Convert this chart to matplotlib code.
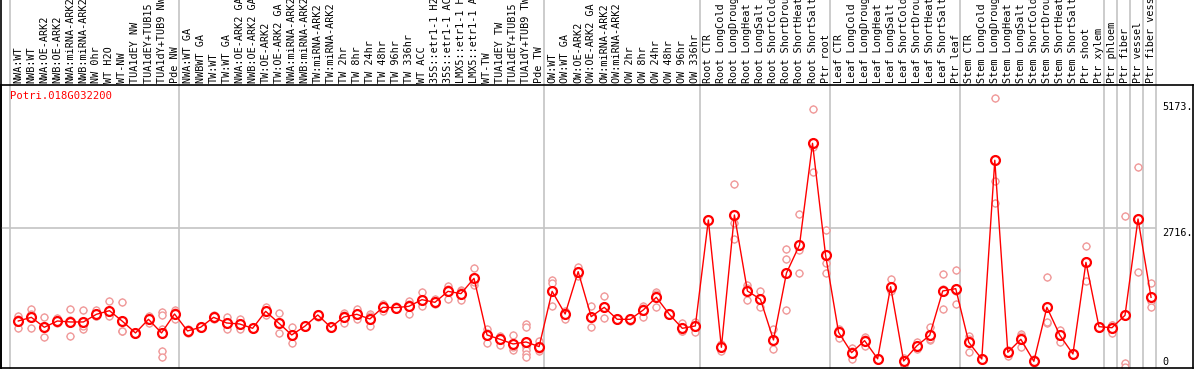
import matplotlib
matplotlib.use("Agg")
import matplotlib.pyplot as plt
import matplotlib.transforms as mtransforms

# sample names, in plot order
labels = [
    "NWA:WT", "NWB:WT", "NWA:OE-ARK2", "NWB:OE-ARK2", "NWA:miRNA-ARK2", "NWB:miRNA-ARK2",
    "NW 0hr", "WT H2O", "WT-NW", "TUA1dEY NW", "TUA1dEY+TUB15 NW", "TUA1dY+TUB9 NW", "Pde NW",
    "NWA:WT GA", "NWBWT GA", "TW:WT", "TW:WT GA", "NWA:OE-ARK2 GA", "NWB:OE-ARK2 GA",
    "TW:OE-ARK2", "TW:OE-ARK2 GA", "NWA:miRNA-ARK2 GA", "NWB:miRNA-ARK2 GA", "TW:miRNA-ARK2",
    "TW:miRNA-ARK2 GA", "TW 2hr", "TW 8hr", "TW 24hr", "TW 48hr", "TW 96hr", "TW 336hr", "WT ACC",
    "35S::etr1-1 H2O", "35S::etr1-1 ACC", "LMX5::etr1-1 H2O", "LMX5::etr1-1 ACC", "WT-TW",
    "TUA1dEY TW", "TUA1dEY+TUB15 TW", "TUA1dY+TUB9 TW", "Pde TW",
    "OW:WT", "OW:WT GA", "OW:OE-ARK2", "OW:OE-ARK2 GA", "OW:miRNA-ARK2", "OW:miRNA-ARK2 GA",
    "OW 2hr", "OW 8hr", "OW 24hr", "OW 48hr", "OW 96hr", "OW 336hr",
    "Root CTR", "Root LongCold", "Root LongDrought", "Root LongHeat", "Root LongSalt",
    "Root ShortCold", "Root ShortDrought", "Root ShortHeat", "Root ShortSalt", "Ptr root",
    "Leaf CTR", "Leaf LongCold", "Leaf LongDrought", "Leaf LongHeat", "Leaf LongSalt",
    "Leaf ShortCold", "Leaf ShortDrought", "Leaf ShortHeat", "Leaf ShortSalt", "Ptr leaf",
    "Stem CTR", "Stem LongCold", "Stem LongDrought", "Stem LongHeat", "Stem LongSalt",
    "Stem ShortCold", "Stem ShortDrought", "Stem ShortHeat", "Stem ShortSalt", "Ptr shoot", "Ptr xylem",
    "Ptr phloem", "Ptr fiber", "Ptr vessel", "Ptr fiber vessel",
]

# number of samples in each experiment block
group_sizes = [13, 28, 12, 10, 10, 11, 1, 1, 1, 1]

# mean expression per sample
means = [
    899, 971, 776, 899, 880, 880, 1030, 1101, 893, 665, 932, 665, 1036,
    704, 776, 971, 860, 841, 756, 1088, 860, 626, 795, 1017, 776, 977, 1030, 938,
    1166, 1160, 1186, 1316, 1264, 1479, 1434, 1733, 626, 541, 450, 489, 398,
    1479, 1036, 1864, 984, 1166, 932, 932, 1114, 1362, 1030, 756, 802,
    2874, 385, 2972, 1486, 1323, 528, 1838, 2385, 4373, 2190,
    678, 280, 515, 160, 1570, 117, 410, 619, 1486, 1531,
    482, 156, 4041, 287, 541, 111, 1166, 619, 254, 2046, 788,
    768, 1010, 2893, 1362,
]

# individual replicate values per sample
replicates = [
    [1003, 940, 756], [1128, 1030, 756], [971, 776, 580], [950, 854, 893],
    [1128, 912, 600], [1108, 737, 795], [1108, 997, 990], [1290, 1010, 1003],
    [1264, 710, 705], [680, 650], [997, 854, 945], [1075, 1010, 737, 665, 319, 190],
    [1108, 932, 1068],
    [743, 665], [790, 760], [1023, 945], [977, 743], [938, 743], [770, 743],
    [1179, 1010, 1075], [1056, 660], [776, 463, 640], [800, 790], [1030, 980, 1040],
    [790, 765], [1049, 867, 1015], [1134, 938, 1017], [1030, 795, 990], [1230, 1100],
    [1190, 1130], [1297, 1036, 1225], [1466, 1199, 1290], [1330, 1240],
    [1583, 1336, 1520], [1505, 1310, 1480], [1929, 1603, 1670], [743, 463, 672],
    [606, 430, 590], [626, 332, 392], [840, 780, 489, 400, 330, 260, 202], [515, 319, 360],
    [1701, 1640, 1192], [1088, 938, 1075], [1961, 1850, 1780], [1192, 788, 970],
    [1388, 951, 1160], [940, 925], [965, 900], [1192, 984, 1160], [1473, 1179, 1430],
    [1050, 1010], [854, 710, 705], [886, 691, 830],
    [2890, 2860], [440, 319, 400], [3578, 2809, 2502], [1603, 1310, 1545],
    [1486, 1166, 1320], [737, 346, 500], [2301, 2111, 1114], [2985, 2287, 1838],
    [5044, 4295, 3806], [2678, 2027, 1838],
    [737, 561, 720], [377, 150, 310], [580, 410, 555], [180, 140, 170],
    [1714, 1505, 1490], [39, 170, 140], [482, 390, 360], [782, 528, 550],
    [1812, 1128, 1520], [1890, 1225, 1480],
    [606, 287, 550], [170, 145], [5253, 3643, 3213], [330, 215, 315], [639, 385, 600],
    [150, 70, 110], [1766, 854, 880], [723, 495, 640], [270, 240], [2365, 2070, 1687],
    [810, 770],
    [830, 658, 815], [2952, 84, 6], [3904, 1851], [1636, 1290, 1166],
]

y_ticks = [0, 2716, 5173]
gene = "Potri.018G032200"

W, H = 1194, 370
fig = plt.figure(figsize=(W / 100, H / 100), dpi=100)
# axes box in pixels: x 1..1193, y 85..368
ax = fig.add_axes([1 / W, 2 / H, 1192 / W, 283 / H])

step = 13.02
x0 = 18.3
ax.set_xlim((1 - x0) / step, (1193 - x0) / step)
ax.set_ylim(-20, 5513)
ax.set_xticks([])
ax.set_yticks([])
for s in ax.spines.values():
    s.set_color("black")
    s.set_linewidth(1.2)

mono = "DejaVu Sans Mono"
grid_c = "#c4c4c4"
x_end = len(labels) - 1 + 0.35

# block separators, running up through the label area
bounds = [-0.65]
k = 0
for g in group_sizes:
    k += g
    bounds.append(k - 0.65)
for b in bounds:
    ax.axvline(b, ymin=0, ymax=1.32, color=grid_c, lw=1.2, clip_on=False, zorder=1)
ax.axvline(ax.get_xlim()[0] + 0.02, ymin=0, ymax=1.32, color="black", lw=1.2,
           clip_on=False, zorder=1)

ax.hlines(2716, ax.get_xlim()[0], x_end, color=grid_c, lw=1.2, zorder=1)

xs = list(range(len(labels)))

# replicate points: small ticks peeking out of a hollow ring
rx, ry = [], []
for i, reps in enumerate(replicates):
    for v in reps:
        rx.append(i)
        ry.append(v)
rep_c = "#f09a9a"
ax.plot(rx, ry, ls="none", marker="+", ms=6.3, mew=0.9, color=rep_c, zorder=2)
ax.plot(rx, ry, ls="none", marker="o", ms=5.0, mew=1.0, mfc="white", mec=rep_c, zorder=2)

# mean markers, then the connecting line, then the red ring
ax.plot(xs, means, ls="none", marker="+", ms=7.8, mew=1.0, color="#b00000", zorder=3)
ax.plot(xs, means, ls="none", marker="o", ms=6.4, mew=0, mfc="white", zorder=3)
ax.plot(xs, means, color="red", lw=1.0, zorder=4)
ax.plot(xs, means, ls="none", marker="o", ms=6.4, mew=1.6, mfc="none", mec="red", zorder=5)

# sample labels above the frame
lab_tr = mtransforms.offset_copy(
    mtransforms.blended_transform_factory(ax.transData, ax.transAxes),
    fig=fig, x=0, y=2.2, units="dots")
for i, lab in enumerate(labels):
    ax.text(i, 1.0, lab, transform=lab_tr, rotation=90, ha="center", va="bottom",
            fontsize=7.3, family=mono, color="black")

# y labels at the right side
lx = (1162 - x0) / step
ax.text(lx, y_ticks[0], "%d" % y_ticks[0], ha="left", va="bottom",
        fontsize=7.3, family=mono)
for v in y_ticks[1:]:
    ax.text(lx, v, "%d." % v, ha="left", va="top", fontsize=7.3, family=mono)

ax.text(9 / 1192, 1 - 6 / 283, gene, transform=ax.transAxes, ha="left", va="top",
        fontsize=7.6, family=mono, color="red")

fig.savefig("out.png", dpi=100)
